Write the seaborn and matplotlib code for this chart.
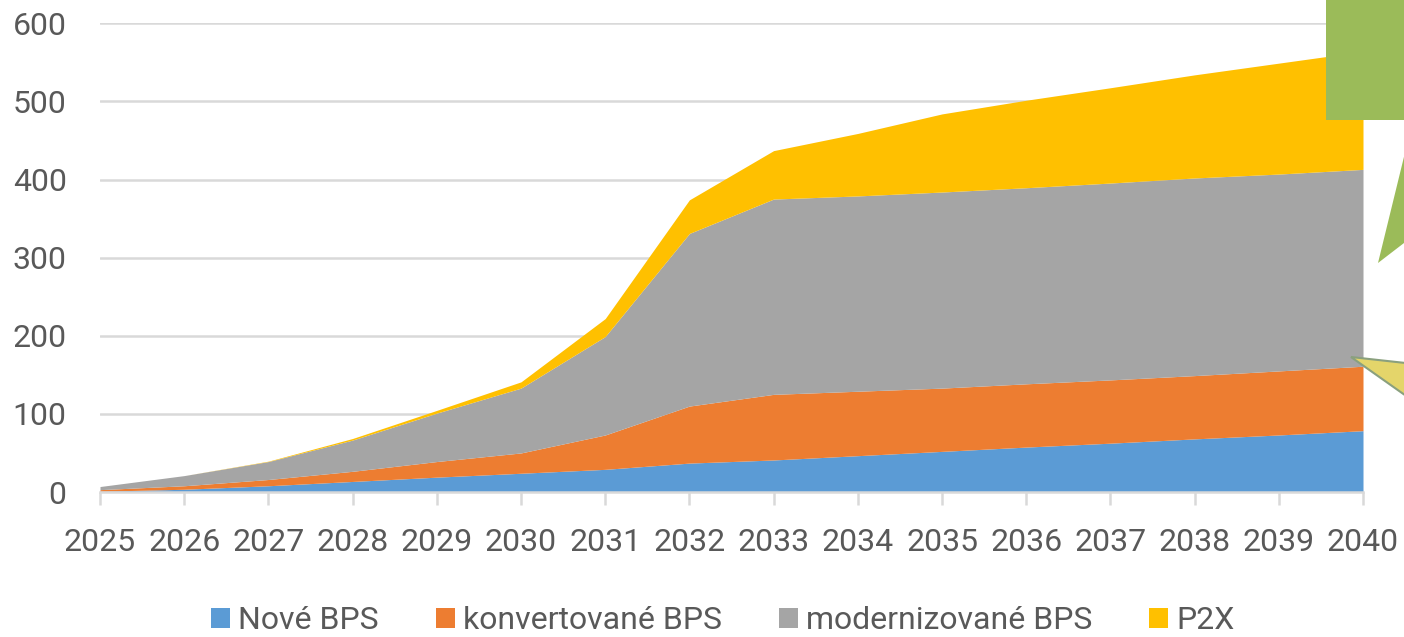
import numpy as np
import pandas as pd
import seaborn as sns
import matplotlib.pyplot as plt
from matplotlib.patches import Polygon, Patch

years = list(range(2025, 2041))
nove_bps = [1, 3.5, 8, 13.5, 19, 24, 29, 37, 41, 46.5, 52, 57.5, 62.5, 68, 73, 78.5]
konvertovane_bps = [2, 4.5, 8, 13, 20, 26, 44, 73, 84, 82.5, 81, 81, 81, 81, 82, 82.5]
modernizovane_bps = [4, 13, 23, 40, 62, 83, 126, 221, 250, 250, 251, 251, 252, 253, 252, 252]
p2x = [0, 0, 0.5, 2, 3.5, 8, 23, 43, 62, 80, 100, 112, 122, 132, 142, 151]

series_names = ["Nové BPS", "konvertované BPS", "modernizované BPS", "P2X"]
y_ticks = [0, 100, 200, 300, 400, 500, 600]

df = pd.DataFrame({
    "year": years,
    "Nové BPS": nove_bps,
    "konvertované BPS": konvertovane_bps,
    "modernizované BPS": modernizovane_bps,
    "P2X": p2x,
})

sns.set_theme(style="white")
plt.rcParams["font.family"] = ["Roboto", "DejaVu Sans"]
colors = sns.color_palette(["#5B9BD5", "#ED7D31", "#A5A5A5", "#FFC000"])
text_color = "#595959"
grid_color = "#D9D9D9"

W, H = 1404, 637
fig = plt.figure(figsize=(W / 100, H / 100), dpi=100)
ax = fig.add_axes([100 / W, (H - 492) / H, 1263 / W, 468.7 / H])

ax.stackplot(df["year"], [df[n] for n in series_names], colors=colors,
             labels=series_names, linewidth=0, zorder=2)

ax.set_xlim(2025, 2040)
ax.set_ylim(0, 600)
ax.set_xticks(years)
ax.set_xticklabels([str(y) for y in years])
ax.set_yticks(y_ticks)
ax.set_yticklabels([str(v) for v in y_ticks])

ax.yaxis.grid(True, color=grid_color, linewidth=1.8, zorder=0)
ax.set_axisbelow(True)
for side in ["top", "right", "left"]:
    ax.spines[side].set_visible(False)
ax.spines["bottom"].set_color(grid_color)
ax.spines["bottom"].set_linewidth(1.8)
ax.spines["bottom"].set_zorder(3)

ax.tick_params(axis="x", length=9, width=1.8, color=grid_color, pad=17,
               labelsize=23, labelcolor=text_color, bottom=True)
ax.tick_params(axis="y", length=0, pad=24, labelsize=23, labelcolor=text_color)
ax.set_xlabel("")
ax.set_ylabel("")

handles = [Patch(facecolor=c, edgecolor="none") for c in colors]
fig.legend(handles, series_names, loc="center", bbox_to_anchor=(0.515, 0.026),
           ncol=4, frameon=False, fontsize=23, labelcolor=text_color,
           handlelength=0.6, handleheight=0.6, handletextpad=0.25,
           columnspacing=1.78, borderpad=0.1)


def px(points):
    return [(x / W, (H - y) / H) for x, y in points]


# callout shapes cropped at the right edge
green = Polygon(px([(1326, -5), (1326, 120), (1413, 120), (1378, 263),
                    (1564, 120), (1564, -5)]),
                closed=True, transform=fig.transFigure, facecolor="#9BBB59",
                edgecolor="none", zorder=10)
fig.add_artist(green)
yellow = Polygon(px([(1351, 357), (1460, 369), (1460, 434)]), closed=True,
                 transform=fig.transFigure, facecolor="#E4D56A",
                 edgecolor="#8AA07E", linewidth=1.5, zorder=10)
fig.add_artist(yellow)

fig.savefig("out.png", dpi=100)
